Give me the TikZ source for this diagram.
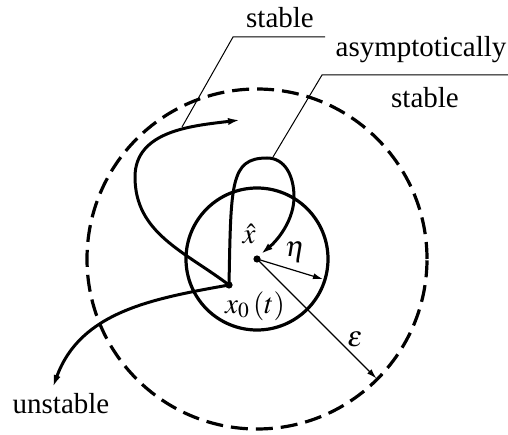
\documentclass[tikz,border=0pt]{standalone}
\usepackage{mathptmx}
\usepackage{fontspec}
\setmainfont{Liberation Serif}
\usetikzlibrary{arrows.meta,positioning,calc}

\begin{document}
\begin{tikzpicture}[x=0.5pt, y=0.5pt, >={Latex[length=6pt,width=3.6pt]},
  traj/.style={line width=1.5pt},
  lead/.style={line width=0.5pt},
  ring/.style={line width=1.6pt},
  thinarrow/.style={line width=0.6pt, -{Latex[length=5pt,width=3pt]}},
  lbl/.style={font=\fontsize{14.5}{17}\selectfont, inner sep=0pt},
  dot/.style={circle, fill, inner sep=0pt, minimum size=3.6pt}]
\useasboundingbox (0,0) rectangle (508,434);

% centre and start point
\coordinate (c) at (257,175);
\coordinate (x0) at (229,149);

% regions
\draw[ring, dash pattern=on 8.5pt off 4pt] (c) circle[radius=170];
\draw[ring] (c) circle[radius=71];

% radii
\coordinate (etaTip) at ($(c)+(-17:69)$);
\coordinate (epsTip) at ($(c)+(-45:169)$);
\draw[thinarrow] (c) -- (etaTip);
\draw[thinarrow] (c) -- (epsTip);

% trajectories
\coordinate (sLeft) at (135,257);
\coordinate (sTip) at (240,314);
\draw[traj, ->] (x0) to[out=143, in=-90] (sLeft) to[out=90, in=187] (sTip);

\coordinate (aTop) at (267,276);
\coordinate (aRight) at (294,237);
\coordinate (aTip) at (261,180);
\draw[traj, ->] (x0) .. controls (231,250) and (230,276) .. (aTop)
  .. controls (285,276) and (294,258) .. (aRight)
  .. controls (294,215) and (279,195) .. (aTip);

\coordinate (uTip) at (53,47);
\draw[traj, ->] (x0) to[out=190, in=70] (uTip);

\node[dot] (cDot) at (c) {};
\node[dot] (x0Dot) at (x0) {};

% labels
\node[lbl] (xhat) at (249,200) {$\hat{x}$};
\node[lbl] (eta) at (295,182) {$\eta$};
\node[lbl] (x0lbl) at (255,128) {$x_0\,(t)$};
\node[lbl] (eps) at (355,95) {$\varepsilon$};

% leaders
\coordinate (sKnee) at (233,397);
\coordinate (sEnd) at (325,397);
\coordinate (sHit) at (182,307);
\node[lbl, anchor=base] (stableLbl) at (280,406) {stable};
\draw[lead] (sEnd) -- (sKnee) -- (sHit);

\coordinate (aKnee) at (322,359);
\coordinate (aEnd) at (508,359);
\coordinate (aHit) at (273,277);
\node[lbl, anchor=base] (asyLbl) at (421,377) {asymptotically};
\node[lbl, anchor=base] (asyLbl2) at (425,326) {stable};
\draw[lead] (aEnd) -- (aKnee) -- (aHit);

\node[lbl, anchor=base] (unstLbl) at (61,21) {unstable};
\end{tikzpicture}
\end{document}
